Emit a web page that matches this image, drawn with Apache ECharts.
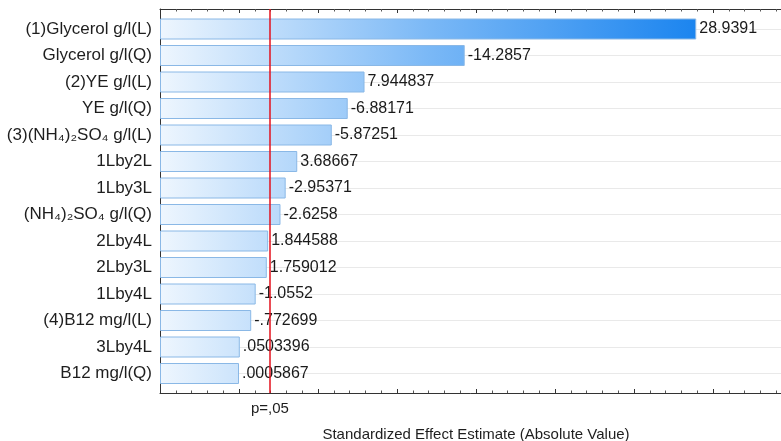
<!DOCTYPE html>
<html>
<head>
<meta charset="utf-8">
<script src="https://cdn.jsdelivr.net/npm/echarts@6/dist/echarts.min.js"></script>
<style>
  html, body { margin: 0; padding: 0; background: #ffffff; }
  #chart { width: 781px; height: 441px; }
</style>
</head>
<body>
<div id="chart"></div>
<script>
// Pareto chart of standardized effects (term order as ranked)
const terms = [
  '(1)Glycerol g/l(L)',
  'Glycerol g/l(Q)',
  '(2)YE g/l(L)',
  'YE g/l(Q)',
  '(3)(NH\u2084)\u2082SO\u2084 g/l(L)',
  '1Lby2L',
  '1Lby3L',
  '(NH\u2084)\u2082SO\u2084 g/l(Q)',
  '2Lby4L',
  '2Lby3L',
  '1Lby4L',
  '(4)B12 mg/l(L)',
  '3Lby4L',
  'B12 mg/l(Q)'
];
const effects = [
  28.9391, -14.2857, 7.944837, -6.88171, -5.87251, 3.68667, -2.95371,
  -2.6258, 1.844588, 1.759012, -1.0552, -0.772699, 0.0503396, 0.0005867
];
const axisMin = -5;
const axisMax = 35;
const majorStep = 5;
const criticalValue = 1.96;
const criticalLabel = 'p=,05';
const axisTitle = 'Standardized Effect Estimate (Absolute Value)';

const FONT = '"Liberation Sans", Arial, sans-serif';
const GRID_LEFT = 160;
const GRID_RIGHT = -11;   // plot frame runs past the right edge of the canvas

// Statistica-style numbers: no leading zero before the decimal point
function fmt(v) {
  return String(v).replace(/^(-?)0\./, '$1.');
}

const magnitudes = effects.map(v => Math.abs(v));
// bars grow from the left edge of the axis: a transparent base segment
// fills 0..axisMin and the visible segment continues to |effect|
const baseSeg = effects.map(() => axisMin);
const visibleSeg = magnitudes.map(v => v - axisMin);

const chart = echarts.init(document.getElementById('chart'), null, { renderer: 'canvas' });

const barFill = {
  type: 'linear', global: true,
  x: GRID_LEFT, y: 0, x2: GRID_LEFT + 540, y2: 0,
  colorStops: [
    { offset: 0, color: '#eef6fe' },
    { offset: 0.5, color: '#7ab8f6' },
    { offset: 1, color: '#1a84ef' }
  ]
};

const frameLine = { show: true, onZero: false, lineStyle: { color: '#333333', width: 1 } };

const option = {
  backgroundColor: '#ffffff',
  animation: false,
  textStyle: { fontFamily: FONT },
  grid: [
    { left: GRID_LEFT, right: GRID_RIGHT, top: 29, bottom: 67.5, outerBoundsMode: 'none', containLabel: false },
    { left: GRID_LEFT, right: GRID_RIGHT, top: 9, bottom: 48, outerBoundsMode: 'none', containLabel: false }
  ],
  xAxis: [
    { type: 'value', gridIndex: 0, min: axisMin, max: axisMax, show: false },
    {
      type: 'value', gridIndex: 1, min: axisMin, max: axisMax, interval: majorStep,
      position: 'bottom',
      axisLine: frameLine,
      axisTick: { show: true, inside: true, length: 4, lineStyle: { color: '#333333' } },
      minorTick: { show: true, splitNumber: 5, length: 2.5, lineStyle: { color: '#555555' } },
      axisLabel: { show: false },
      splitLine: { show: false },
      name: axisTitle,
      nameLocation: 'middle',
      nameGap: 34,
      nameTextStyle: { fontSize: 15, color: '#1e1e1e', fontFamily: FONT }
    },
    {
      type: 'value', gridIndex: 1, min: axisMin, max: axisMax, interval: majorStep,
      position: 'top',
      axisLine: frameLine,
      axisTick: { show: true, inside: true, length: 4, lineStyle: { color: '#333333' } },
      minorTick: { show: true, splitNumber: 5, length: 2.5, lineStyle: { color: '#555555' } },
      axisLabel: { show: false },
      splitLine: { show: false }
    }
  ],
  yAxis: [
    {
      type: 'category', gridIndex: 0, data: terms, inverse: true,
      boundaryGap: false,
      axisLine: { show: false, onZero: false },
      axisTick: { show: true, inside: true, length: 4, lineStyle: { color: '#333333' } },
      axisLabel: { fontSize: 17, color: '#1e1e1e', margin: 8, fontFamily: FONT },
      splitLine: { show: true, lineStyle: { color: '#e9e9e9', width: 1 } }
    },
    {
      type: 'value', gridIndex: 1, min: 0, max: 1, position: 'left',
      axisLine: frameLine,
      axisTick: { show: false },
      axisLabel: { show: false },
      splitLine: { show: false }
    }
  ],
  series: [
    {
      type: 'bar', xAxisIndex: 0, yAxisIndex: 0,
      stack: 'effect', stackStrategy: 'all',
      data: baseSeg, barWidth: 21, clip: false, silent: true,
      itemStyle: { color: 'rgba(0,0,0,0)' }
    },
    {
      type: 'bar', xAxisIndex: 0, yAxisIndex: 0,
      stack: 'effect', stackStrategy: 'all',
      data: visibleSeg, barWidth: 21, clip: false,
      itemStyle: { color: barFill, borderColor: '#8ab8e6', borderWidth: 1 },
      label: {
        show: true, position: 'right', distance: 3,
        fontSize: 16, color: '#1a1a1a', fontFamily: FONT,
        formatter: p => fmt(effects[p.dataIndex])
      }
    },
    {
      type: 'line', xAxisIndex: 1, yAxisIndex: 1, data: [],
      markLine: {
        silent: true, symbol: ['none', 'none'],
        lineStyle: { color: '#e3101c', width: 1.5, type: 'solid' },
        label: {
          show: true, position: 'start', distance: 8,
          formatter: criticalLabel, fontSize: 15, color: '#1e1e1e', fontFamily: FONT
        },
        data: [{ xAxis: criticalValue }]
      }
    }
  ]
};

chart.setOption(option);
</script>
</body>
</html>
